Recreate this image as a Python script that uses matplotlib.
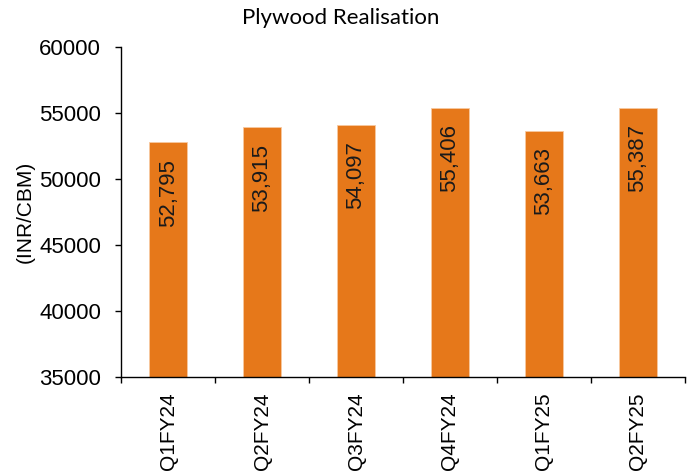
import matplotlib
matplotlib.use("Agg")
import matplotlib.pyplot as plt
import numpy as np

categories = ["Q1FY24", "Q2FY24", "Q3FY24", "Q4FY24", "Q1FY25", "Q2FY25"]
values = [52795, 53915, 54097, 55406, 53663, 55387]
yticks = [35000, 40000, 45000, 50000, 55000, 60000]

plt.rcParams['font.family'] = ['Liberation Sans', 'DejaVu Sans']

fig = plt.figure(figsize=(6.96, 4.74), dpi=100)
ax = fig.add_axes([0.174, 0.205, 0.81, 0.696])

x = np.arange(len(categories))
bars = ax.bar(x, values, width=0.4, color="#E6781A", edgecolor="#F7C9A0", linewidth=0.6, zorder=2)

ax.set_xlim(-0.5, len(categories) - 0.5)
ax.set_ylim(35000, 60000)
ax.set_yticks(yticks)
ax.set_yticklabels([str(v) for v in yticks], fontsize=16)

ax.set_xticks(x)
ax.set_xticklabels(categories, rotation=90, fontsize=15)
ax.tick_params(axis='x', which='major', length=0, pad=11)
ax.set_xticks(np.arange(-0.5, len(categories), 1), minor=True)
ax.tick_params(axis='x', which='minor', length=4.5, width=1, direction='out')
ax.tick_params(axis='y', length=4.5, width=1, direction='out', pad=10)

for s in ['top', 'right']:
    ax.spines[s].set_visible(False)
for s in ['left', 'bottom']:
    ax.spines[s].set_linewidth(1)

for xi, v in zip(x, values):
    ax.annotate(f"{v:,}", xy=(xi, v), xytext=(0, -12), textcoords='offset points',
                rotation=90, ha='center', va='top', fontsize=16, color='#1a1a1a')

ax.set_ylabel("(INR/CBM)", fontsize=15, labelpad=3)
fig.text(0.49, 0.962, "Plywood Realisation", ha='center', va='center', fontsize=16,
         family=['Lato', 'DejaVu Sans'])

fig.savefig("out.png", dpi=100)
